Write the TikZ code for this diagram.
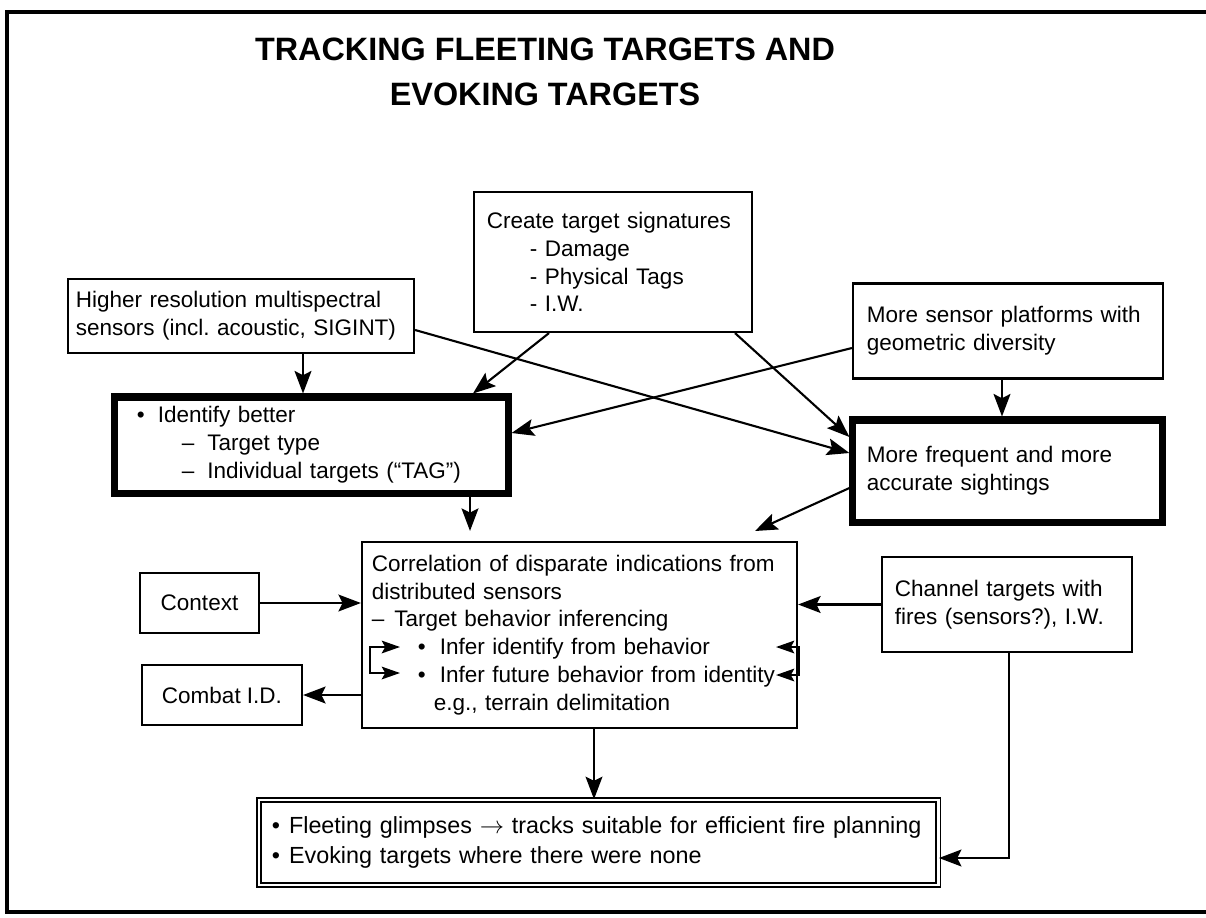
\documentclass[tikz,border=0pt]{standalone}
\usepackage{fontspec}
\setmainfont{Liberation Sans}
\usetikzlibrary{arrows.meta}
\newdimen\pxu \pxu=0.025cm

\begin{document}
\begin{tikzpicture}[
  x=0.025cm, y=-0.025cm,
  box/.style={draw, line width=1.5pt, align=left, inner ysep=0pt, font=\fontsize{16}{19.8}\selectfont},
  keybox/.style={box, line width=5pt},
  dblbox/.style={box, line width=1.2pt, double, double distance=2pt, font=\fontsize{16.6}{21}\selectfont},
  arr/.style={line width=1.5pt, -{Stealth[length=16pt, width=12pt, inset=3pt]}},
  bracket/.style={line width=1.5pt, {Stealth[length=13pt, width=9pt, inset=2.5pt]}-{Stealth[length=13pt, width=9pt, inset=2.5pt]}},
  ttl/.style={align=center, font=\fontsize{23}{32}\selectfont\bfseries}
]
\useasboundingbox (0,0) rectangle (1206,917);
\draw[line width=2.2pt] (1206,12) -- (7,12) -- (7,912) -- (1206,912);

\node[ttl] (title) at (545,72) {TRACKING FLEETING TARGETS AND\\EVOKING TARGETS};

\node[box, text width=8.25cm, inner xsep=0.2cm, minimum height=1.85cm] (sens) at (241,316) {Higher resolution multispectral\\sensors (incl.\ acoustic, SIGINT)};
\node[box, text width=6.3cm, inner xsep=0.325cm, minimum height=3.5cm] (sig) at (613,262) {Create target signatures\\\hspace*{43\pxu}- Damage\\\hspace*{43\pxu}- Physical Tags\\\hspace*{43\pxu}- I.W.};
\node[box, text width=7.05cm, inner xsep=0.35cm, minimum height=2.375cm] (plat) at (1008,331) {More sensor platforms with\\geometric diversity};
\node[keybox, text width=8.725cm, inner xsep=0.55cm, minimum height=2.4cm] (ident) at (311.5,445) {\textbullet\hspace*{13\pxu}Identify better\\\hspace*{45\pxu}–\hspace*{13\pxu}Target type\\\hspace*{45\pxu}–\hspace*{13\pxu}Individual targets (“TAG”)};
\node[keybox, text width=7.025cm, inner xsep=0.35cm, minimum height=2.55cm] (freq) at (1007.5,471) {More frequent and more\\accurate sightings};
\node[box, text width=10.375cm, inner xsep=0.25cm, minimum height=4.65cm] (corr) at (579.5,635) {Correlation of disparate indications from\\distributed sensors\\–\hspace*{10\pxu}Target behavior inferencing\\\hspace*{46\pxu}\textbullet\hspace*{14\pxu}Infer identify from behavior\\\hspace*{46\pxu}\textbullet\hspace*{14\pxu}Infer future behavior from identity\\\hspace*{62\pxu}e.g.,\ terrain delimitation};
\node[box, align=center, minimum width=2.975cm, minimum height=1.5cm] (context) at (199.5,603) {Context};
\node[box, align=center, minimum width=4cm, minimum height=1.5cm] (combat) at (222,695) {Combat I.D.};
\node[box, text width=5.6cm, inner xsep=0.325cm, minimum height=2.375cm] (chan) at (1007,604.5) {Channel targets with\\fires (sensors?), I.W.};
\node[dblbox, text width=16.325cm, inner xsep=0.325cm, minimum height=2.125cm] (fleet) at (598.5,842.5) {\textbullet\hspace*{9\pxu}Fleeting glimpses $\rightarrow$ tracks suitable for efficient fire planning\\\textbullet\hspace*{9\pxu}Evoking targets where there were none};

\coordinate (ftip) at (755,531);
\coordinate (lb1) at (400,647);
\coordinate (lb2) at (400,673);
\coordinate (rb1) at (776,647);
\coordinate (rb2) at (776,675);

\draw[arr] (303,0 |- sens.south) -- (303,0 |- ident.north);
\draw[arr] (549,0 |- sig.south) -- (473,0 |- ident.north);
\draw[arr] (plat.west |- 0,348) -- (ident.east |- 0,433);
\draw[arr] (sens.east |- 0,330) -- (freq.west |- 0,453);
\draw[arr] (735,0 |- sig.south) -- (freq.west |- 0,437);
\draw[arr] (1002,0 |- plat.south) -- (1002,0 |- freq.north);
\draw[arr, shorten >=0.25cm] (470,0 |- ident.south) -- (470,0 |- corr.north);
\draw[arr] (freq.west |- 0,488) -- (ftip);
\draw[arr] (context.east) -- (context.east -| corr.west);
\draw[arr] (corr.west |- combat.east) -- (combat.east);
\draw[arr] (chan.west) -- (chan.west -| corr.east);
\draw[arr] (1009,0 |- chan.south) |- (fleet.east |- 0,858);
\draw[arr] (594,0 |- corr.south) -- (594,0 |- fleet.north);
\draw[bracket] (lb1) -- (lb1 -| 370,0) -- (lb2 -| 370,0) -- (lb2);
\draw[bracket] (rb1) -- (rb1 -| 799,0) -- (rb2 -| 799,0) -- (rb2);
\end{tikzpicture}
\end{document}
